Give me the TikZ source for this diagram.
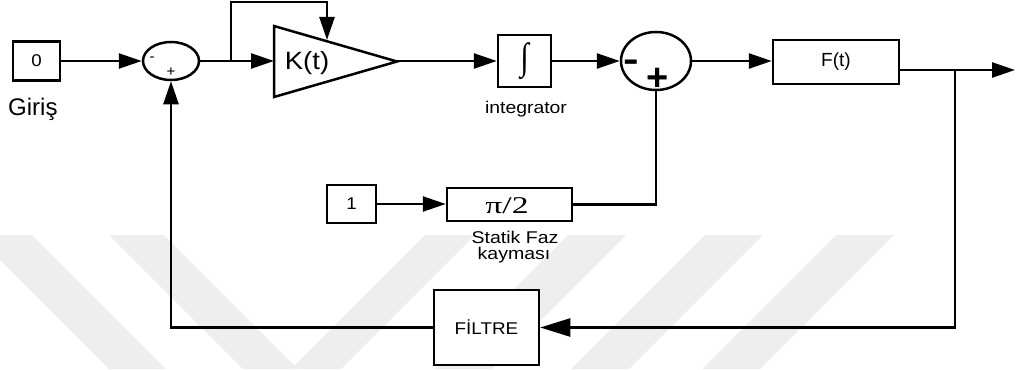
\documentclass[tikz,border=0pt]{standalone}
\usepackage{fontspec}
\usepackage{graphicx}
\setmainfont{Liberation Sans}
\newfontfamily\symserif{Liberation Serif}
\usetikzlibrary{arrows.meta,shapes.geometric}
\newcommand\fsz[1]{\fontsize{#1}{#1}\selectfont}
\newcommand\widen[2]{\scalebox{#1}[1]{#2}}
\definecolor{wmgrey}{RGB}{238,238,238}

\begin{document}
\begin{tikzpicture}[x=1pt,y=-1pt,
  wire/.style={line width=2.5pt},
  flow/.style={wire,-{Triangle[length=23pt,width=15pt]}},
  bigflow/.style={wire,-{Triangle[length=30pt,width=18pt]}},
  box/.style={draw,line width=2.5pt,fill=white,inner sep=0pt},
  sumjunction/.style={draw,ellipse,line width=2.5pt,fill=white,inner sep=0pt},
  lbl/.style={inner sep=0pt,anchor=base}]

\useasboundingbox (0,0) rectangle (1016,369);

% faint diagonal stripes in the background
\fill[wmgrey] (-25,235) -- (32,235) -- (166,369) -- (109,369) -- cycle;
\fill[wmgrey] (109,235) -- (164,235) -- (298,369) -- (243,369) -- cycle;
\foreach \a/\w in {425/50, 568/58, 705/58, 836/58}
  \fill[wmgrey] (\a,235) -- (\a+\w,235) -- (\a+\w-134,369) -- (\a-134,369) -- cycle;

% input and first summing junction
\node[box,minimum width=47,minimum height=39] (in0) at (36.5,61) {\fsz{17}\widen{1.1}{0}};
\node[lbl,anchor=base west] (giris) at (8,115) {\fsz{24}Giriş};
\node[sumjunction,minimum width=56,minimum height=38] (s1) at (171,61) {};
\node[inner sep=0pt] (s1minus) at (152,59) {\fsz{15}-};
\node[inner sep=0pt] (s1plus) at (171,72) {\fsz{15}+};

% gain K(t)
\draw[wire,fill=white] (274,26) -- (274,97) -- (397,61.5) -- cycle;
\coordinate (ampin) at (274,61);
\coordinate (ampout) at (397,61);
\coordinate (amptop) at (327,40);
\node[lbl] (kt) at (307,70) {\fsz{25}\widen{1.1}{K(t)}};

% integrator
\node[box,minimum width=53,minimum height=52] (intg) at (524.5,61) {\resizebox*{8.5pt}{37pt}{\symserif ∫}};
\node[lbl] (intlbl) at (526,113) {\fsz{17}\widen{1.14}{integrator}};

% second summing junction
\node[sumjunction,minimum width=70,minimum height=58] (s2) at (656,61) {};
\node[inner sep=0pt] (s2minus) at (631,66) {\fsz{36}\bfseries\widen{1.3}{-}};
\node[inner sep=0pt] (s2plus) at (658,79) {\fsz{38}\bfseries +};

% output block
\node[box,minimum width=126,minimum height=44] (Ft) at (836,62) {\fsz{19}F(t)};

% static phase shift
\node[box,minimum width=49,minimum height=38] (in1) at (351.5,204) {\fsz{17}\widen{1.1}{1}};
\node[box,minimum width=125,minimum height=33] (phase) at (509.5,204.5) {};
\node[lbl] (pil) at (507,213) {\symserif\fsz{24}\widen{1.4}{π/2}};
\node[lbl] (sf1) at (515,243) {\fsz{17}\widen{1.15}{Statik Faz}};
\node[lbl] (sf2) at (514,259) {\fsz{17}\widen{1.15}{kayması}};

% filter in the feedback path
\node[box,minimum width=105,minimum height=75] (filt) at (486.5,327.5) {\fsz{17}\widen{1.11}{FİLTRE}};

% branch points
\coordinate (br1) at (231,61);
\coordinate (loop) at (231,2);
\coordinate (out) at (1015,70);
\coordinate (br2) at (955,70);

% signal lines
\draw[flow] (in0.east) -- (s1.west);
\draw[flow] (s1.east) -- (ampin);
\draw[flow] (br1) -- (loop) -| (amptop);
\draw[flow] (ampout) -- (intg.west);
\draw[flow] (intg.east) -- (s2.west);
\draw[flow] (s2.east) -- (s2.east -| Ft.west);
\draw[flow] (Ft.east |- out) -- (out);
\draw[bigflow] (br2) |- (filt.east);
\draw[flow] (filt.west) -| (s1.south);
\draw[flow] (in1.east) -- (in1.east -| phase.west);
\draw[wire] (phase.east) -| (s2.south);
\end{tikzpicture}
\end{document}
